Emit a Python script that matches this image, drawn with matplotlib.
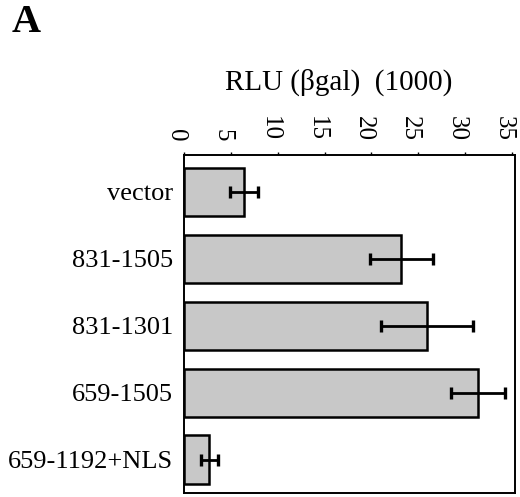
import matplotlib
matplotlib.use('Agg')
import matplotlib.pyplot as plt
import matplotlib.transforms as mtrans

# dados do grafico (RLU em milhares)
construtos = ['vector', '831-1505', '831-1301', '659-1505', '659-1192+NLS']
valores = [6.4, 23.2, 25.9, 31.4, 2.7]
erros = [1.5, 3.4, 4.9, 2.9, 0.9]
ticks_x = [0, 5, 10, 15, 20, 25, 30, 35]

plt.rcParams['font.family'] = ['Liberation Serif', 'DejaVu Serif']

fig = plt.figure(figsize=(5.2, 4.97), dpi=100)
ax = fig.add_axes([0.354, 0.008, 0.636, 0.68])

pos = range(len(construtos))
ax.barh(pos, valores, height=0.72, color='#c8c8c8', edgecolor='black', linewidth=1.8)
ax.errorbar(valores, pos, xerr=erros, fmt='none', ecolor='black',
            elinewidth=2, capsize=4.5, capthick=2.4)

ax.set_xlim(0, 35.3)
ax.set_ylim(4.5, -0.55)
ax.set_yticks(list(pos))
ax.set_yticklabels(construtos, fontsize=19)
ax.tick_params(axis='y', length=0, pad=8)

ax.xaxis.tick_top()
ax.set_xticks(ticks_x)
ax.set_xticklabels([str(t) for t in ticks_x], fontsize=18, rotation=270)
ax.tick_params(axis='x', length=2, width=1, pad=8)
# os rotulos ficam um pouco a esquerda do traco, como no original
desloc = mtrans.ScaledTranslation(-8 / 100, 0, fig.dpi_scale_trans)
for lbl in ax.get_xticklabels():
    lbl.set_transform(lbl.get_transform() + desloc)

for s in ax.spines.values():
    s.set_linewidth(1.4)

fig.text(0.652, 0.835, 'RLU (βgal)  (1000)', fontsize=21, ha='center', va='center')
fig.text(0.022, 0.955, 'A', fontsize=29, fontweight='bold', ha='left', va='center')

fig.savefig('out.png', dpi=100)
